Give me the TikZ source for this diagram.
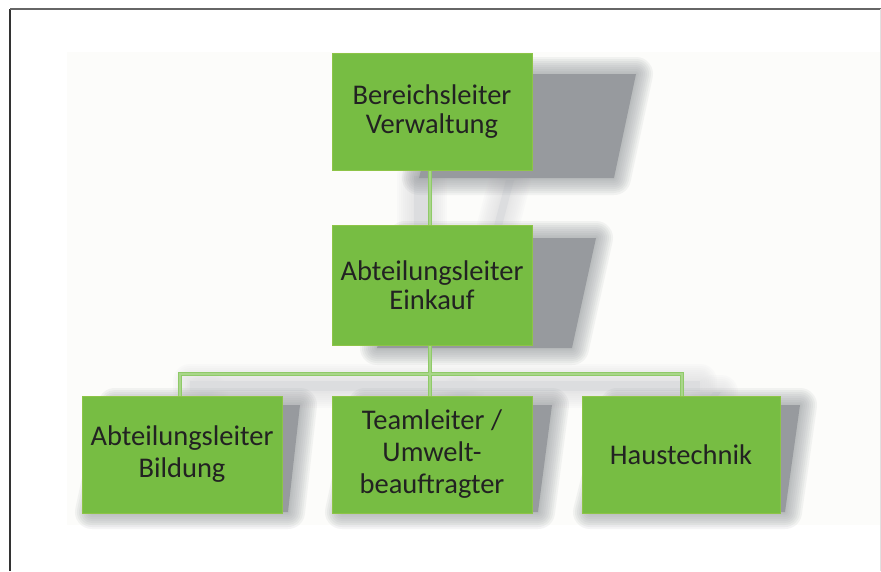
\documentclass[tikz,border=0pt]{standalone}
\usepackage{fontspec}
\setmainfont{Carlito}
\definecolor{boxgreen}{HTML}{77BD43}
\definecolor{boxedge}{HTML}{8DC447}
\definecolor{linkgreen}{HTML}{8FCA68}
\definecolor{linklight}{HTML}{A9D68A}
\definecolor{shadowgray}{HTML}{979A9E}
\definecolor{lightshadow}{HTML}{DCDDDF}
\definecolor{panel}{HTML}{FCFCFA}
\definecolor{txt}{HTML}{222222}
\pgfdeclarelayer{shadowlayer}
\pgfdeclarelayer{linklayer}
\pgfsetlayers{shadowlayer,linklayer,main}
\newcommand{\softshadow}[2]{%
  \foreach \w in {34,30,26,22,18,14,10,6,3}{%
    \draw[line width=\w pt, draw=#1, draw opacity=0.1, line join=round] #2;}
  \fill[#1] #2;}
\tikzset{
  orgbox/.style={draw=boxedge, line width=0.8pt, fill=boxgreen, text=txt,
    minimum width=200pt, minimum height=117pt, inner sep=0pt, align=center,
    font=\fontsize{28.5}{29}\selectfont},
  lowbox/.style={orgbox, font=\fontsize{28.5}{32}\selectfont},
  link/.style={draw=linkgreen, line width=4.5pt},
  linkcore/.style={draw=linklight, line width=1.4pt},
}
\begin{document}
\begin{tikzpicture}[x=1pt,y=-1pt]
\useasboundingbox (0,0) rectangle (881,571);
\begin{pgfonlayer}{shadowlayer}
% page frame
\fill[white] (0,0) rectangle (881,571);
\fill[panel] (67,52) rectangle (880,525);
\draw[draw=black!80, line width=1.4pt] (10,571) -- (10,9);
\draw[draw=black!60, line width=1.8pt] (10,9) -- (881,9);
\draw[draw=black!12, line width=0.8pt] (880,9) -- (880,571);
% connector shadows
\softshadow{lightshadow}{(414,176) rectangle (430,226)}
\softshadow{lightshadow}{(506,180) -- (514,180) -- (502,226) -- (494,226) -- cycle}
\softshadow{lightshadow}{(190,381) rectangle (700,391)}
\softshadow{lightshadow}{(203,392) -- (211,392) -- (205,400) -- (197,400) -- cycle}
\softshadow{lightshadow}{(459,392) -- (467,392) -- (461,400) -- (453,400) -- cycle}
\softshadow{lightshadow}{(713,392) -- (721,392) -- (715,400) -- (707,400) -- cycle}
% box shadows
\softshadow{shadowgray}{(445,74) -- (636,74) -- (614,178) -- (419,178) -- cycle}
\softshadow{shadowgray}{(405,238) -- (596,238) -- (572,348) -- (377,348) -- cycle}
\softshadow{shadowgray}{(115,405) -- (300,405) -- (288,512) -- (92,512) -- cycle}
\softshadow{shadowgray}{(365,405) -- (552,405) -- (538,512) -- (342,512) -- cycle}
\softshadow{shadowgray}{(617,405) -- (800,405) -- (785,512) -- (590,512) -- cycle}
\end{pgfonlayer}
% boxes
\node[orgbox] (bv) at (432,111.5) {Bereichsleiter\\Verwaltung};
\node[orgbox, minimum height=120pt] (ae) at (432,285) {Abteilungsleiter\\Einkauf};
\node[lowbox] (ab) at (182,454.5) {Abteilungsleiter\\Bildung};
\node[lowbox] (tu) at (432,454.5) {Teamleiter /\\Umwelt-\\beauftragter};
\node[lowbox, minimum width=198pt] (ht) at (681,454.5) {Haustechnik};
\coordinate (hub) at (430,374);
\coordinate (lx) at (180,374);
\coordinate (rx) at (682,374);
% connectors
\begin{pgfonlayer}{linklayer}
\foreach \s in {link,linkcore}{
  \draw[\s] (bv.south -| hub) -- (ae.north -| hub);
  \draw[\s] (ae.south -| hub) -- (hub);
  \draw[\s, line join=miter] (ab.north -| lx) -- (lx) -- (rx) -- (ht.north -| rx);
  \draw[\s] (hub) -- (tu.north -| hub);
}
\end{pgfonlayer}
\end{tikzpicture}
\end{document}
